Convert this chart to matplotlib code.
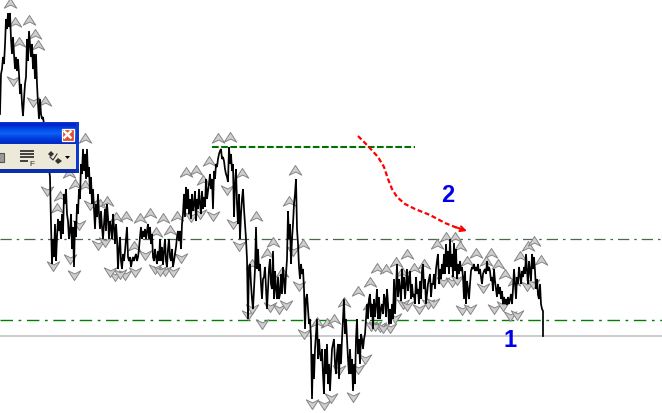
import numpy as np
import matplotlib
matplotlib.use("Agg")
import matplotlib.pyplot as plt
from matplotlib.path import Path
from matplotlib.patches import Rectangle, Polygon, FancyArrowPatch

W, H = 662, 414

# close readings per section: section start (bar index) -> consecutive values
close_000 = [115,75,70,58,65,46,20,30,14,28,14,40,55,38,55,70,58,72,60,75,95,85,105,117,100,85,78,40,62,32,45,58,45,70,55,80,55,85,105,120,100,115,120,118,125]
close_050 = [178,225,265,240,258,225,262,238,220,232,222,240,215,235,195,205,190,215,222,240,232,215,250,228,268,222,238,205,215,190]
close_080 = [200,165,175,150,172,155,180,150,178,168,195,178,205,190,210,230,205,218,195,215]
close_100 = [230,212,228,240,225,210,232,205,218,240,222,228,240,215,228,245,225,240,270,250]
close_120 = [238,262,270,255,262,252,240,228,258,262,258,268,262,258,262,258,255,262,258,250]
close_140 = [238,228,240,232,238,230,240,232,225,240,228,245,235,258,262,250,258,265,252,262]
close_160 = [240,262,248,266,252,240,262,268,250,240,258,262,250,268,262,255,248,238,232,242]
close_180 = [232,250,225,215,195,218,188,210,190,215,200,220,195,212,205,192,222,200,210,190]
close_200 = [205,215,192,210,198,208,180,200,192,185,175,190,180,210,172,180,165,168,160,155]
close_220 = [152,150,160,158,162,170,175,178,183,148,165,155,172,165,218,185,170,205,225,195]
close_240 = [240,215,200,190,210,225,240,260,320,268,265,285,300,310,290,270,228,270,250,272]
close_260 = [265,285,300,280,278,268,290,310,290,270,260,285,290,252,300,272,290,300,278,300]
close_280 = [295,275,295,268,280,295,275,260,212,240,225,265,240,225,205,195,180,230,245,268]
close_300 = [280,265,275,270,290,330,300,295,310,325,320,340,400,355,380,350,335,320,360,340]
close_320 = [355,362,350,375,395,350,375,345,385,365,392,370,350,345,340,365,375,355,345,380]
close_340 = [345,365,340,320,300,335,320,340,360,375,350,375,360,392,365,385,340,320,355,340]
close_360 = [365,335,340,350,340,335,320,305,320,300,295,318,305,330,300,318,305,290,320,298]
close_380 = [320,310,305,315,295,300,318,290,305,325,310,325,305,320,280,315,290,265,298,280]
close_400 = [290,302,270,290,278,300,285,270,292,280,272,300,285,298,295,305,278,295,290,305]
close_420 = [282,300,272,265,290,280,305,295,285,280,275,298,285,285,275,290,270,262,255,285]
close_440 = [270,280,265,275,255,275,245,268,252,275,240,268,255,278,244,272,250,280,265,275]
close_460 = [262,272,268,278,300,272,305,282,290,300,285,272,268,270,265,272,268,272,265,275]
close_480 = [270,278,285,275,272,270,275,262,272,268,272,282,278,292,270,282,290,298,285,295]
close_500 = [288,300,292,305,298,305,300,306,298,305,300,295,305,290,270,285,300,278,285,268]
close_520 = [276,285,272,278,268,275,255,272,285,262,272,282,255,270,258,272,290,280,296,300]
close_540 = [285,305,310]
close_543 = [312,337]

sections = {0: close_000, 50: close_050, 80: close_080, 100: close_100, 120: close_120, 140: close_140,
            160: close_160, 180: close_180, 200: close_200, 220: close_220, 240: close_240, 260: close_260,
            280: close_280, 300: close_300, 320: close_320, 340: close_340, 360: close_360, 380: close_380,
            400: close_400, 420: close_420, 440: close_440, 460: close_460, 480: close_480, 500: close_500,
            520: close_520, 540: close_540}

up_x = [10,15,29,19,35,38,45,85,69,60,57,75,85,100,107,116,126,140,150,163,177,186,196,203,209,218,134,156,170,230,242,256,289,295,273,267,252,282,303,327,344,317,334,358,369,370,377,386,396,402,407,414,424,437,446,455,460,467,476,491,486,498,505,514,520,528,534,541]
up_y = [4,23,21,43,35,46,102,139,174,197,209,185,186,205,202,218,217,219,214,219,217,173,171,181,162,139,247,233,231,138,174,217,202,171,243,254,265,273,245,324,303,323,320,292,306,283,269,270,263,273,255,269,265,245,238,238,247,262,254,254,262,265,275,282,257,247,242,261]
dn_x = [13,33,47,53,74,70,79,90,98,105,115,125,135,145,155,165,173,181,191,200,213,233,239,227,248,252,262,270,279,286,299,293,304,312,324,331,339,353,358,365,371,380,390,395,403,407,419,428,433,462,470,483,494,503,510,517,527,533,443,452,457,375,383,120,110,160]
dn_y = [82,103,192,267,276,260,226,206,246,243,277,276,273,256,270,272,273,259,218,215,217,225,247,191,316,310,325,308,310,306,287,252,335,405,406,399,371,398,370,360,327,328,329,319,305,307,310,305,304,311,310,289,310,307,317,316,287,285,283,283,281,327,329,275,273,272]

red_x = [358,368,378,384,388,392,397,405,415,430,445,455,464]
red_y = [137,147,158,168,180,190,198,205,210,216,224,228,231]

level_grey = 336.5
level_lower = 320.5
level_upper = 239.5
resist_x = [212,415]
resist_y = [147.5,147.5]

price_x, price_y = [], []
for start, vals in sections.items():
    price_x.extend(start + i for i in range(len(vals)))
    price_y.extend(vals)
price_x.extend([543, 543])
price_y.extend(close_543)

up_marker = Path([(0,0.8),(1,-0.75),(0.05,-0.25),(-1,-0.75),(0,0.8)], closed=True)
dn_marker = Path([(0,-0.8),(1,0.75),(0.05,0.25),(-1,0.75),(0,-0.8)], closed=True)

fig = plt.figure(figsize=(W/100, H/100), dpi=100, facecolor="white")
ax = fig.add_axes([0, 0, 1, 1])
ax.set_axis_off()

ax.axhline(level_grey, color="#c4c4c4", lw=1.2, zorder=1)
ax.axhline(level_lower, color="#008000", lw=1, ls=(0, (9, 4, 2, 4)), zorder=1)
ax.axhline(level_upper, color="#4a6a4a", lw=0.9, ls=(0, (9, 4, 2, 4)), zorder=1)
ax.plot(resist_x, resist_y, color="#007000", lw=1.5, ls=(0, (3.2, 1.2)), zorder=2)

ax.plot(up_x, up_y, ls="none", marker=up_marker, ms=9, mfc="#cfcfcf", mec="#858585", mew=0.7, zorder=3)
ax.plot(dn_x, dn_y, ls="none", marker=dn_marker, ms=9, mfc="#cfcfcf", mec="#858585", mew=0.7, zorder=3)
ax.plot(price_x, price_y, color="black", lw=1.25, zorder=4, solid_joinstyle="miter")

ax.plot(red_x, red_y, color="#ff0000", lw=1.6, ls=(0, (2.2, 1.2)), zorder=5)
ax.add_patch(FancyArrowPatch((red_x[-2], red_y[-2]), (467, 232), arrowstyle="->", mutation_scale=9,
                             color="#ff0000", lw=1.4, zorder=5, shrinkA=0, shrinkB=0))

ax.text(448, 196, "2", color="#0000f0", fontsize=17, fontweight="bold", family="Liberation Sans", ha="center", va="center", zorder=6)
ax.text(510, 341, "1", color="#0000f0", fontsize=17, fontweight="bold", family="Liberation Sans", ha="center", va="center", zorder=6)

# floating toolbar window
title_grad = np.array([[0.0, 0.15, 0.8],[0.0, 0.3, 0.92],[0.05, 0.38, 0.95],[0.0, 0.25, 0.88],[0.0, 0.18, 0.78]])[:, None, :]
ax.add_patch(Rectangle((0, 123), 79, 51, fc="#0a3ad0", ec="none", zorder=10))
ax.imshow(title_grad, extent=(0, 76, 145, 124), aspect="auto", zorder=11, interpolation="bilinear")
ax.add_patch(Rectangle((0, 145), 76, 25, fc="#ece9d8", ec="none", zorder=11))
ax.add_patch(Rectangle((0, 170), 79, 4, fc="#0b2fa8", ec="none", zorder=11))
ax.add_patch(Rectangle((61.5, 129.5), 12, 12, fc="#e0502a", ec="white", lw=0.9, zorder=12))
ax.plot([64.5, 70.5], [132.5, 138.5], color="white", lw=1.8, zorder=13)
ax.plot([70.5, 64.5], [132.5, 138.5], color="white", lw=1.8, zorder=13)
ax.add_patch(Rectangle((-1, 154), 5, 9, fc="#9a9a9a", ec="#555555", lw=0.8, zorder=12))
gx, gy = np.meshgrid(np.arange(20.5, 34, 2), [151.5, 154.5, 157.5])
ax.scatter(gx, gy, s=0.6, c="#444444", marker="s", linewidths=0, zorder=12)
ax.scatter(np.arange(20.5, 28, 2), [161.5]*4, s=0.6, c="#444444", marker="s", linewidths=0, zorder=12)
ax.text(31.5, 164.5, "F", fontsize=6, family="Liberation Sans", color="#333333", ha="center", va="center", zorder=12)
ax.add_patch(Polygon([[48, 155], [51, 152], [54, 155], [51, 158]], fc="#333333", ec="none", zorder=12))
ax.add_patch(Polygon([[55, 162], [58, 159], [62, 162], [58, 165]], fc="#333333", ec="none", zorder=12))
ax.plot([50, 53, 57], [158, 161, 155], color="#333333", lw=0.8, zorder=12)
ax.add_patch(Polygon([[65, 157], [70, 157], [67.5, 160]], fc="black", ec="none", zorder=12))

ax.set_xlim(0, W)
ax.set_ylim(H, 0)
fig.savefig("out.png", dpi=100, facecolor="white")
